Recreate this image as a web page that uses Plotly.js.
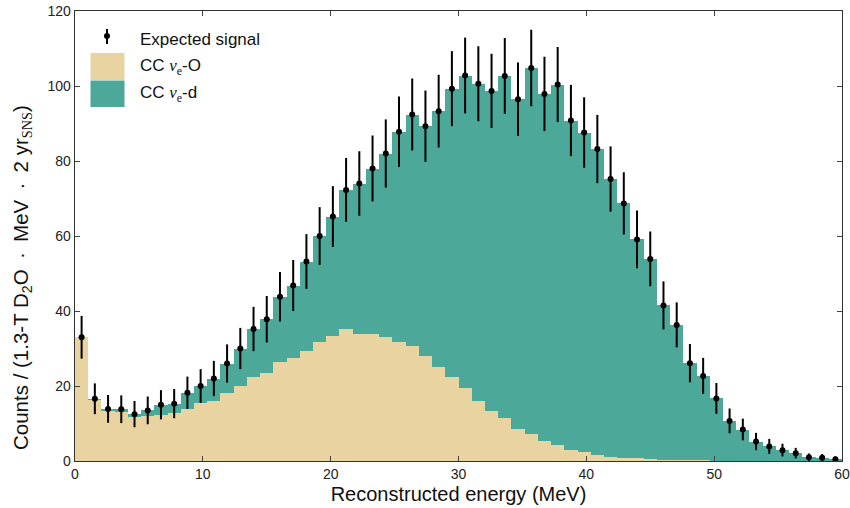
<!DOCTYPE html>
<html>
<head>
<meta charset="utf-8">
<script src="https://cdn.plot.ly/plotly-3.0.1.min.js"></script>
<style>html,body{margin:0;padding:0;background:#fff;}#chart{width:850px;height:508px;}</style>
</head>
<body>
<div id="chart"></div>
<script>
// Histogram binning: 58 equal bins between 0 and 60 MeV
const energyMin = 0;
const energyMax = 60;
const nBins = 58;

// CC nu_e - O contribution (beige, bottom of the stack)
const ccO = [33.0, 16.3, 13.4, 13.2, 11.7, 12.0, 12.4, 12.9, 14.0, 15.4,
             16.0, 18.2, 20.0, 22.4, 23.6, 26.3, 27.6, 29.4, 31.7, 33.4,
             35.2, 34.0, 33.8, 33.0, 31.7, 30.6, 28.0, 25.0, 22.3, 19.6,
             16.0, 13.3, 11.4, 8.6, 7.1, 5.4, 4.4, 3.0, 2.3, 1.6,
             1.2, 0.9, 0.7, 0.5, 0.4, 0.3, 0.2, 0.2, 0.1, 0.1,
             0.05, 0.05, 0.0, 0.0, 0.0, 0.0, 0.0, 0.0];

// CC nu_e - d contribution (teal, stacked on top)
const ccD = [0.0, 0.3, 0.5, 0.6, 0.8, 1.5, 2.6, 2.4, 4.2, 4.6,
             6.0, 7.8, 10.0, 12.8, 14.2, 17.5, 19.2, 23.8, 28.3, 31.8,
             37.1, 40.0, 44.2, 49.0, 56.1, 61.8, 61.3, 68.3, 77.0, 83.2,
             84.6, 85.4, 91.3, 87.9, 97.7, 92.5, 96.0, 87.8, 85.3, 81.6,
             74.0, 67.8, 58.4, 53.4, 41.1, 36.0, 25.9, 22.5, 16.6, 10.6,
             8.35, 5.15, 3.9, 2.9, 2.1, 1.0, 0.9, 0.5];

// Expected signal points (total) and their error bars
const signal = [33.0, 16.6, 13.9, 13.8, 12.5, 13.5, 15.0, 15.3, 18.2, 20.0,
                22.0, 26.0, 30.0, 35.2, 37.8, 43.8, 46.8, 53.2, 60.0, 65.2,
                72.3, 74.0, 78.0, 82.0, 87.8, 92.4, 89.3, 93.3, 99.3, 102.8,
                100.6, 98.7, 102.7, 96.5, 104.8, 97.9, 100.4, 90.8, 87.6, 83.2,
                75.2, 68.7, 59.1, 53.9, 41.5, 36.3, 26.1, 22.7, 16.7, 10.7,
                8.4, 5.2, 3.9, 2.9, 2.1, 1.0, 0.9, 0.5];
const signalErr = [5.7, 4.1, 3.7, 3.7, 3.5, 3.7, 3.9, 3.9, 4.3, 4.5,
                   4.7, 5.1, 5.5, 5.9, 6.2, 6.6, 6.8, 7.3, 7.7, 8.1,
                   8.5, 8.6, 8.8, 9.1, 9.4, 9.6, 9.5, 9.7, 10.0, 10.1,
                   10.0, 9.9, 10.1, 9.8, 10.2, 9.9, 10.0, 9.5, 9.4, 9.1,
                   8.7, 8.3, 7.7, 7.3, 6.4, 6.0, 5.1, 4.8, 4.1, 3.3,
                   2.9, 2.3, 2.0, 1.7, 1.4, 1.0, 0.95, 0.7];

const xTicks = [0, 10, 20, 30, 40, 50, 60];
const yTicks = [0, 20, 40, 60, 80, 100, 120];

const serif = "font-family:'Liberation Serif',serif";
const labelExpected = 'Expected signal';
const labelO = 'CC <span style="' + serif + '"><i>ν</i></span><sub><span style="' + serif + '">e</span></sub>-O';
const labelD = 'CC <span style="' + serif + '"><i>ν</i></span><sub><span style="' + serif + '">e</span></sub>-d';
const xTitle = 'Reconstructed energy (MeV)';
const sp = '\u2002';
const yTitle = 'Counts / (1.3-T D<sub>2</sub>O' + sp + '·' + sp + 'MeV' + sp + '·' + sp + '2 yr<sub><span style="' + serif + '">SNS</span></sub>)';

const colO = '#E8D3A1';
const colD = '#4CA99A';

const binW = (energyMax - energyMin) / nBins;
const centers = ccO.map((_, i) => energyMin + (i + 0.5) * binW);

const traces = [
  {type: 'bar', x: centers, y: ccO, width: binW, name: 'CC νe-O',
   marker: {color: colO, line: {width: 0}}, hoverinfo: 'skip'},
  {type: 'bar', x: centers, y: ccD, width: binW, name: 'CC νe-d',
   marker: {color: colD, line: {width: 0}}, hoverinfo: 'skip'},
  {type: 'scatter', mode: 'markers', x: centers, y: signal, name: labelExpected,
   marker: {color: '#000', size: 6},
   error_y: {type: 'data', array: signalErr, visible: true, color: '#000', thickness: 2, width: 0}}
];

// plot area in pixels: x 75..842, y 11..461
const L = 75, R = 8, T = 11, B = 47, W = 850, H = 508;
const pw = W - L - R, ph = H - T - B;
const px = v => (v - L) / pw;           // pixel -> paper x
const py = v => (H - B - v) / ph;       // pixel -> paper y

const fontMain = 'Liberation Sans, Arial, sans-serif';

const layout = {
  width: W, height: H,
  margin: {l: L, r: R, t: T, b: B, pad: 0},
  paper_bgcolor: '#fff', plot_bgcolor: '#fff',
  barmode: 'stack', bargap: 0,
  showlegend: false,
  font: {family: fontMain, color: '#222', size: 14},
  xaxis: {
    range: [energyMin, energyMax], tickvals: xTicks, ticktext: xTicks.map(String),
    ticks: 'inside', ticklen: 5, tickcolor: '#444', tickwidth: 1,
    showline: true, linecolor: '#333', linewidth: 1.3, mirror: 'ticks',
    showgrid: false, zeroline: false,
    tickfont: {family: fontMain, size: 14, color: '#222'},
    title: {text: xTitle, font: {family: fontMain, size: 20, color: '#111'}, standoff: 6}
  },
  yaxis: {
    range: [0, 120], tickvals: yTicks, ticktext: yTicks.map(String),
    ticks: 'inside', ticklen: 5, tickcolor: '#444', tickwidth: 1,
    showline: true, linecolor: '#333', linewidth: 1.3, mirror: 'ticks',
    showgrid: false, zeroline: false,
    tickfont: {family: fontMain, size: 14, color: '#222'}
  },
  shapes: [
    {type: 'line', xref: 'paper', yref: 'paper', x0: px(107), x1: px(107), y0: py(29), y1: py(44),
     line: {color: '#000', width: 2}},
    {type: 'circle', xref: 'paper', yref: 'paper', x0: px(104), x1: px(110), y0: py(39), y1: py(33),
     fillcolor: '#000', line: {width: 0}},
    {type: 'rect', xref: 'paper', yref: 'paper', x0: px(90.5), x1: px(124.5), y0: py(80), y1: py(53),
     fillcolor: colO, line: {width: 0}},
    {type: 'rect', xref: 'paper', yref: 'paper', x0: px(90.5), x1: px(124.5), y0: py(107), y1: py(80.5),
     fillcolor: colD, line: {width: 0}}
  ],
  annotations: [
    {xref: 'paper', yref: 'paper', x: px(138), y: py(40), xanchor: 'left', yanchor: 'middle',
     text: labelExpected, showarrow: false, font: {family: fontMain, size: 17, color: '#111'}},
    {xref: 'paper', yref: 'paper', x: px(138), y: py(67), xanchor: 'left', yanchor: 'middle',
     text: labelO, showarrow: false, font: {family: fontMain, size: 17, color: '#111'}},
    {xref: 'paper', yref: 'paper', x: px(138), y: py(94), xanchor: 'left', yanchor: 'middle',
     text: labelD, showarrow: false, font: {family: fontMain, size: 17, color: '#111'}},
    // y-axis title
    {xref: 'paper', yref: 'paper', x: px(22), y: py(278), xanchor: 'center', yanchor: 'middle',
     textangle: -90, text: yTitle, showarrow: false, font: {family: fontMain, size: 20.5, color: '#111'}}
  ]
};

Plotly.newPlot('chart', traces, layout, {displayModeBar: false, staticPlot: true});
</script>
</body>
</html>
